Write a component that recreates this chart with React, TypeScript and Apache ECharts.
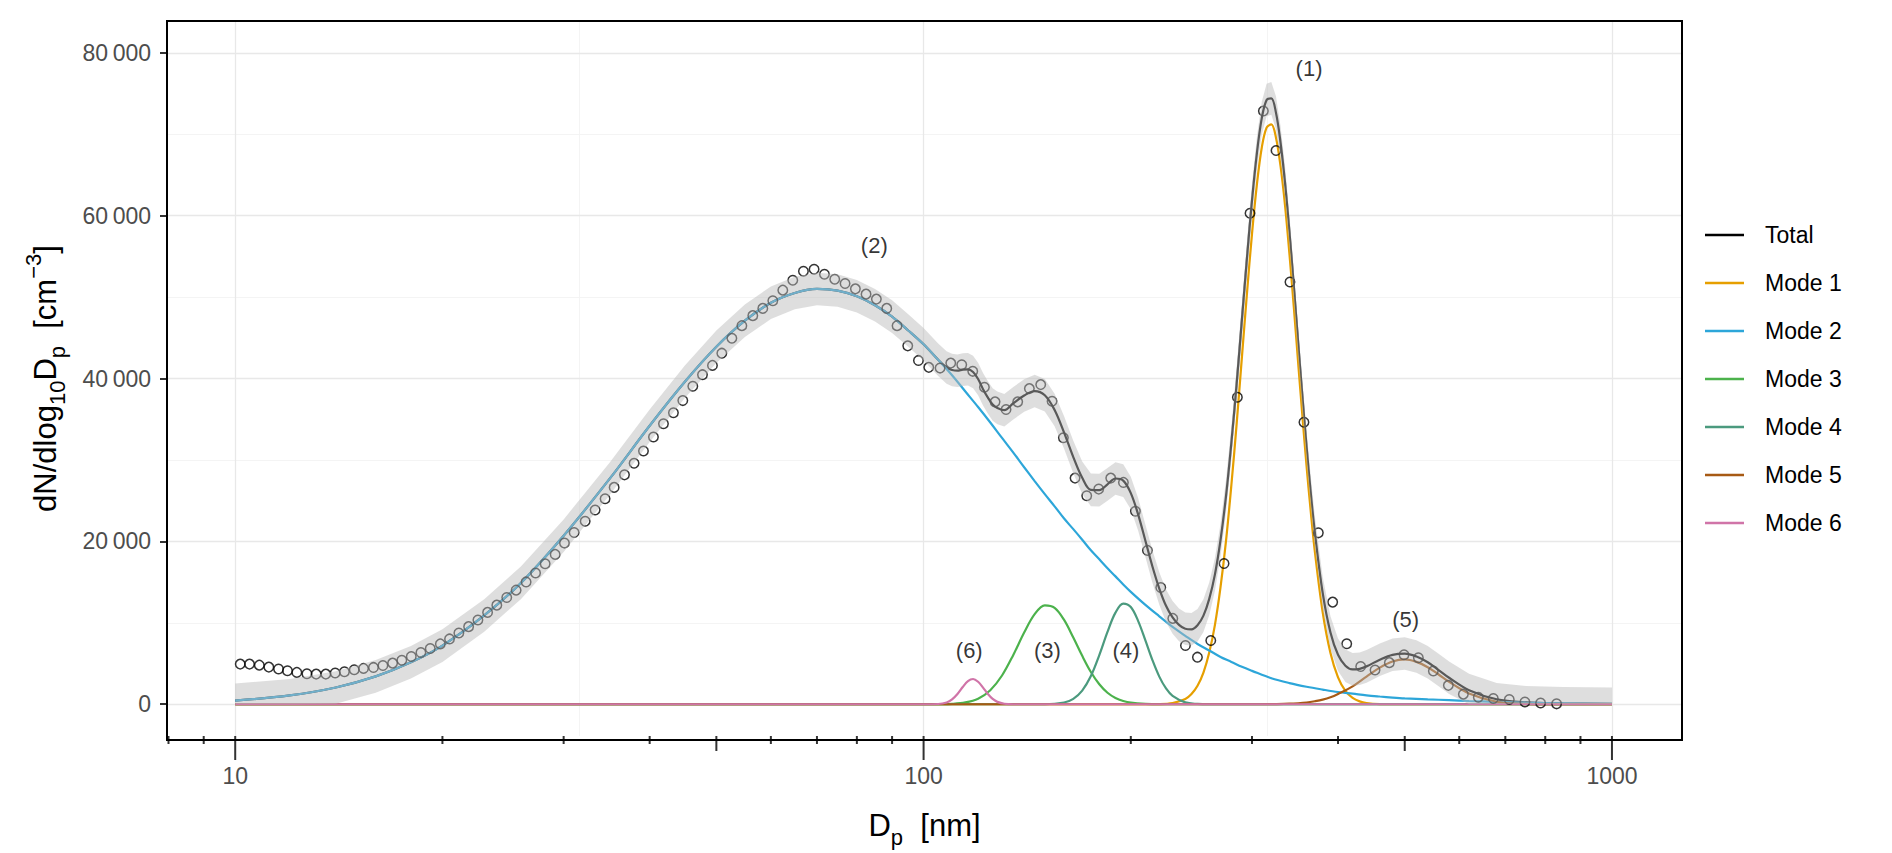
import { useEffect, useRef } from "react";
import * as echarts from "echarts";

const FONT = "Liberation Sans, Arial, Helvetica, sans-serif";

// measured spectrum (open circles): diameter [nm], dN/dlog10Dp [cm-3]
const pointX = [
  10.17, 10.49, 10.84, 11.19, 11.56, 11.91, 12.29, 12.71, 13.11, 13.54,
  13.97, 14.41, 14.89, 15.36, 15.88, 16.39, 16.93, 17.46, 18.02, 18.61,
  19.2, 19.86, 20.48, 21.13, 21.83, 22.52, 23.26, 23.99, 24.8, 25.59,
  26.46, 27.31, 28.2, 29.16, 30.08, 31.07, 32.24, 33.33, 34.46, 35.52,
  36.77, 37.97, 39.18, 40.51, 41.89, 43.31, 44.69, 46.21, 47.73, 49.35,
  50.92, 52.66, 54.45, 56.48, 58.4, 60.39, 62.44, 64.56, 66.9, 69.33,
  71.77, 74.29, 76.9, 79.6, 82.49, 85.39, 88.4, 91.51, 94.84, 98.29,
  101.75, 105.67, 109.51, 113.61, 117.87, 122.56, 127.01, 131.76, 137.0, 142.45,
  147.96, 153.68, 159.62, 165.97, 172.58, 179.65, 187.01, 195.11, 203.11, 211.43,
  221.07, 230.14, 240.1, 249.93, 261.33, 273.2, 285.65, 298.0, 311.6, 325.1,
  340.6, 356.9, 374.5, 392.9, 411.8, 431.5, 452.7, 474.9, 498.8, 523.3,
  550.2, 578.5, 608.3, 639.5, 672.4, 709.3, 747.4, 787.6, 830.9,
];
const pointY = [
  4930, 4930, 4800, 4560, 4320, 4110, 3910, 3750, 3700, 3700,
  3830, 3990, 4230, 4400, 4520, 4760, 5050, 5410, 5860, 6350,
  6840, 7410, 8020, 8750, 9530, 10340, 11280, 12170, 13110, 14010,
  15020, 16120, 17260, 18400, 19790, 21090, 22470, 23860, 25240, 26630,
  28170, 29600, 31100, 32820, 34440, 35790, 37290, 39040, 40470, 41610,
  43110, 44950, 46490, 47720, 48610, 49550, 50850, 52070, 53170, 53420,
  52800, 52190, 51670, 51010, 50360, 49750, 48610, 46490, 44010, 42220,
  41370, 41280, 41890, 41690, 40880, 38920, 37130, 36190, 37130, 38760,
  39250, 37210, 32730, 27770, 25610, 26420, 27770, 27240, 23700, 18890,
  14330, 10540, 7210, 5780, 7820, 17280, 37690, 60300, 72850, 68000,
  51850, 34620, 21050, 12540, 7430, 4630, 4200, 5110, 6080, 5710,
  4090, 2320, 1240, 860, 700, 590, 270, 160, 50,
];

// fitted total and its band
const totalX = [
  10, 12, 14, 16, 18, 20, 23, 26, 30, 35,
  40, 45, 50, 55, 60, 65, 70, 75, 80, 85,
  90, 95, 100, 105, 108, 110, 112, 114, 116, 118,
  120, 122, 124, 126, 128, 131, 135, 140, 145, 150,
  155, 160, 165, 170, 175, 180, 185, 190, 195, 200,
  205, 210, 215, 220, 225, 230, 235, 240, 245, 250,
  255, 260, 265, 270, 275, 280, 285, 290, 295, 300,
  305, 310, 315, 320, 325, 330, 335, 340, 345, 350,
  355, 360, 365, 370, 380, 390, 400, 410, 420, 430,
  440, 460, 480, 500, 520, 540, 560, 580, 620, 680,
  750, 850, 1000,
];
const totalY = [
  450, 1090, 2060, 3420, 5150, 7200, 10900, 14900, 20700, 27700,
  34200, 39600, 43900, 47100, 49300, 50500, 51000, 50800, 50100, 49000,
  47600, 45900, 44200, 42300, 41350, 41050, 40960, 41090, 41130, 40800,
  39940, 38690, 37660, 36800, 36390, 36110, 36960, 37910, 38460, 37950,
  36140, 33360, 30350, 27810, 26320, 26290, 27000, 27720, 27460, 25930,
  23290, 20080, 16920, 14210, 12090, 10670, 9750, 9270, 9200, 9700,
  10880, 12940, 15950, 20170, 25560, 32150, 39400, 47200, 54850, 61900,
  67750, 72000, 74200, 74400, 72650, 69000, 64050, 57970, 51340, 44470,
  37860, 31660, 26080, 21240, 13670, 8810, 6070, 4730, 4280, 4350,
  4650, 5470, 6070, 6220, 5860, 5150, 4200, 3250, 1730, 610,
  240, 120, 50,
];
const bandLow = [
  0, 0, 60, 1420, 3150, 5200, 8900, 12900, 18700, 25700,
  32200, 37600, 41900, 45100, 47300, 48500, 49000, 48800, 48100, 47000,
  45600, 43900, 42200, 40300, 39350, 39050, 38960, 39090, 39130, 38800,
  37940, 36690, 35660, 34800, 34390, 34110, 34960, 35910, 36460, 35950,
  34140, 31360, 28350, 25810, 24320, 24290, 25000, 25720, 25460, 23930,
  21290, 18080, 14920, 12210, 10090, 8670, 7750, 7270, 7200, 7700,
  8880, 10940, 13950, 18170, 23560, 30150, 37400, 45200, 52850, 59900,
  65750, 70000, 72200, 72400, 70650, 67000, 62050, 55970, 49340, 42470,
  35860, 29660, 24080, 19240, 11670, 6810, 4070, 2730, 2280, 2350,
  2650, 3470, 4070, 4220, 3860, 3150, 2200, 1250, 0, 0,
  0, 0, 0,
];
const bandHigh = [
  2550, 3090, 4060, 5420, 7150, 9200, 12900, 16900, 22700, 29700,
  36200, 41600, 45900, 49100, 51300, 52500, 53000, 52800, 52100, 51000,
  49600, 47900, 46200, 44300, 43350, 43050, 42960, 43090, 43130, 42800,
  41940, 40690, 39660, 38800, 38390, 38110, 38960, 39910, 40460, 39950,
  38140, 35360, 32350, 29810, 28320, 28290, 29000, 29720, 29460, 27930,
  25290, 22080, 18920, 16210, 14090, 12670, 11750, 11270, 11200, 11700,
  12880, 14940, 17950, 22170, 27560, 34150, 41400, 49200, 56850, 63900,
  69750, 74000, 76200, 76400, 74650, 71000, 66050, 59970, 53340, 46470,
  39860, 33660, 28080, 23240, 15670, 10810, 8070, 6730, 6280, 6350,
  6650, 7470, 8070, 8220, 7860, 7150, 6200, 5250, 3730, 2610,
  2240, 2120, 2050,
];

// individual modes
const mode1X = [10, 200, 220, 230, 240, 245, 250, 255, 260, 265, 270, 275, 280, 285, 290, 295, 300, 305, 310, 315, 320, 325, 330, 335, 340, 345, 350, 355, 360, 365, 370, 380, 390, 400, 410, 420, 430, 440, 460, 480, 1000];
const mode1Y = [0, 0, 20, 140, 640, 1250, 2260, 3880, 6340, 9750, 14370, 20060, 26950, 34500, 42600, 50500, 57800, 63900, 68400, 70800, 71200, 69600, 66100, 61300, 55300, 48800, 42000, 35500, 29300, 23800, 18900, 11300, 6300, 3300, 1640, 780, 350, 150, 20, 0, 0];

const mode2X = [10, 12, 14, 16, 18, 20, 23, 26, 30, 35, 40, 45, 50, 55, 60, 65, 70, 75, 80, 85, 90, 95, 100, 105, 110, 115, 120, 125, 130, 135, 140, 145, 150, 155, 160, 165, 170, 175, 180, 185, 190, 195, 200, 210, 220, 230, 240, 250, 260, 270, 280, 290, 300, 320, 340, 360, 380, 400, 420, 440, 460, 480, 500, 540, 580, 620, 680, 750, 850, 1000];
const mode2Y = [450, 1090, 2060, 3420, 5150, 7200, 10900, 14900, 20700, 27700, 34200, 39600, 43900, 47100, 49300, 50500, 51000, 50800, 50100, 49000, 47600, 45900, 44200, 42300, 40400, 38400, 36500, 34600, 32700, 30900, 29100, 27400, 25800, 24300, 22800, 21500, 20200, 18900, 17800, 16700, 15700, 14700, 13800, 12200, 10800, 9500, 8400, 7400, 6600, 5800, 5200, 4600, 4100, 3200, 2600, 2150, 1800, 1500, 1300, 1100, 950, 820, 720, 600, 500, 400, 300, 200, 120, 50];

const mode3X = [10, 100, 105, 110, 115, 120, 125, 130, 135, 140, 145, 150, 155, 160, 165, 170, 175, 180, 185, 190, 195, 200, 210, 220, 1000];
const mode3Y = [0, 0, 10, 50, 220, 680, 1720, 3530, 6060, 8810, 11060, 12150, 11840, 10350, 8190, 5940, 3960, 2450, 1410, 770, 400, 190, 40, 0, 0];

const mode4X = [10, 150, 160, 165, 170, 175, 180, 185, 190, 195, 200, 205, 210, 215, 220, 225, 230, 240, 250, 260, 1000];
const mode4Y = [0, 0, 210, 660, 1670, 3460, 6040, 8890, 11250, 12360, 11940, 10210, 7840, 5420, 3390, 1940, 1030, 230, 40, 0, 0];

const mode5X = [10, 300, 340, 350, 360, 370, 380, 390, 400, 420, 440, 460, 480, 500, 520, 540, 560, 580, 620, 680, 750, 850, 1000];
const mode5Y = [0, 0, 70, 120, 210, 370, 570, 860, 1270, 2200, 3400, 4500, 5250, 5500, 5200, 4550, 3650, 2750, 1330, 310, 40, 0, 0];

const mode6X = [10, 100, 105, 108, 110, 112, 114, 116, 118, 120, 122, 124, 126, 128, 131, 135, 1000];
const mode6Y = [0, 0, 30, 220, 600, 1260, 2120, 2850, 3100, 2760, 2040, 1260, 650, 290, 60, 0, 0];

const modeNames = ["Mode 1", "Mode 2", "Mode 3", "Mode 4", "Mode 5", "Mode 6"];
const modeColors = ["#E69F00", "#2DA6D9", "#4CB24C", "#4B9A7E", "#A75A14", "#D074A8"];

// peak annotations
const peakText = ["(1)", "(2)", "(3)", "(4)", "(5)", "(6)"];
const peakX = [363, 84.8, 151.3, 196.8, 501.5, 116.5];
const peakY = [78100, 56300, 6550, 6550, 10400, 6550];

// axes
const yTicks = [0, 20000, 40000, 60000, 80000];
const yMinorGrid = [10000, 30000, 50000, 70000];
const xMajor = [10, 100, 1000];
const xMajorLabels = ["10", "100", "1000"];
const xMid = [50, 500];
const xShort = [8, 9, 20, 30, 40, 60, 70, 80, 90, 200, 300, 400, 600, 700, 800, 900];
const xMinorGrid = [31.62, 316.2];

const pairs = (xs: number[], ys: number[]) => xs.map((x, i) => [x, ys[i]]);

const X_MIN = 7.96;
const X_MAX = 1264;
const Y_MIN = -3900;
const Y_MAX = 83900;

export default function App() {
  const ref = useRef<HTMLDivElement>(null);

  useEffect(() => {
    const el = ref.current;
    if (!el) return;
    const chart = echarts.init(el, undefined, { renderer: "svg" });

    const modeLines = [
      [mode1X, mode1Y],
      [mode2X, mode2Y],
      [mode3X, mode3Y],
      [mode4X, mode4Y],
      [mode5X, mode5Y],
      [mode6X, mode6Y],
    ].map(([xs, ys], i) => ({
      name: modeNames[i],
      type: "line",
      data: pairs(xs, ys),
      smooth: 0.35,
      symbol: "none",
      showSymbol: false,
      silent: true,
      z: 2,
      color: modeColors[i],
      lineStyle: { color: modeColors[i], width: 2.2 },
    }));

    const gridLine = (color: string, width: number) => ({ color, width, type: "solid" });
    const titleRich = {
      sub: { fontSize: 22, fontFamily: FONT, color: "#000", verticalAlign: "bottom", lineHeight: 24 },
      sup: { fontSize: 22, fontFamily: FONT, color: "#000", verticalAlign: "top", lineHeight: 28 },
    };

    // log ticks + decade labels under the panel
    const tick = (x: number, y: number, len: number) => ({
      type: "rect",
      shape: { x: x - 1, y, width: 2, height: len },
      style: { fill: "#333333" },
    });
    const renderLogAxis = (_params: any, api: any) => {
      const children: any[] = [];
      xShort.forEach((v) => {
        const p = api.coord([v, Y_MIN]);
        children.push(tick(p[0], p[1], 8));
      });
      xMid.forEach((v) => {
        const p = api.coord([v, Y_MIN]);
        children.push(tick(p[0], p[1], 15));
      });
      xMajor.forEach((v, i) => {
        const p = api.coord([v, Y_MIN]);
        children.push(tick(p[0], p[1], 24));
        children.push({
          type: "text",
          x: p[0],
          y: p[1] + 40,
          style: {
            text: xMajorLabels[i],
            fontSize: 23,
            fontFamily: FONT,
            fill: "#4D4D4D",
            align: "center",
            verticalAlign: "middle",
          },
        });
      });
      return { type: "group", children };
    };

    chart.setOption({
      animation: false,
      backgroundColor: "#ffffff",
      textStyle: { fontFamily: FONT },
      grid: { left: 167, top: 21, width: 1515, height: 719 },
      legend: {
        data: ["Total", ...modeNames],
        orient: "vertical",
        left: 1700,
        top: 217,
        icon: "rect",
        itemWidth: 39,
        itemHeight: 2.6,
        itemGap: 22,
        selectedMode: false,
        textStyle: { fontSize: 23, color: "#000", fontFamily: FONT, lineHeight: 26, padding: [0, 0, 0, 16] },
      },
      xAxis: {
        type: "log",
        logBase: 10,
        min: X_MIN,
        max: X_MAX,
        position: "bottom",
        name: "D{sub|p}  [nm]",
        nameLocation: "middle",
        nameGap: 66,
        nameMoveOverlap: false,
        nameTextStyle: { fontSize: 31, color: "#000", fontFamily: FONT, lineHeight: 46, rich: titleRich },
        axisLine: { show: false, onZero: false },
        splitLine: { show: false },
        axisTick: { show: false },
        axisLabel: { show: false },
      },
      yAxis: {
        type: "value",
        min: Y_MIN,
        max: Y_MAX,
        name: "dN/dlog{sub|10}D{sub|p}  [cm{sup|\u22123}]",
        nameLocation: "middle",
        nameGap: 99,
        nameMoveOverlap: false,
        nameTextStyle: { fontSize: 31, color: "#000", fontFamily: FONT, lineHeight: 46, rich: titleRich },
        axisLine: { show: false, onZero: false },
        splitLine: { show: false },
        axisTick: { show: true, customValues: yTicks, length: 7, lineStyle: { color: "#333333", width: 2 } },
        axisLabel: {
          customValues: yTicks,
          margin: 16,
          fontSize: 23,
          color: "#4D4D4D",
          fontFamily: FONT,
          formatter: (v: number) => String(v).replace(/\B(?=(\d{3})+(?!\d))/g, "\u2009"),
        },
      },
      graphic: [
        {
          type: "rect",
          shape: { x: 167, y: 21, width: 1515, height: 719 },
          style: { fill: "none", stroke: "#000", lineWidth: 2 },
          z: 100,
          silent: true,
        },
      ],
      series: [
        {
          name: "grid",
          type: "line",
          data: [[10, 0]],
          symbol: "none",
          showSymbol: false,
          silent: true,
          z: 1,
          lineStyle: { opacity: 0 },
          markLine: {
            silent: true,
            z: 1,
            symbol: ["none", "none"],
            label: { show: false },
            animation: false,
            data: [
              ...yMinorGrid.map((v) => ({ yAxis: v, lineStyle: gridLine("#F3F3F3", 0.9) })),
              ...xMinorGrid.map((v) => ({ xAxis: v, lineStyle: gridLine("#F3F3F3", 0.9) })),
              ...yTicks.map((v) => ({ yAxis: v, lineStyle: gridLine("#E8E8E8", 1.3) })),
              ...xMajor.map((v) => ({ xAxis: v, lineStyle: gridLine("#E8E8E8", 1.3) })),
            ],
          },
        },
        {
          name: "Total",
          type: "line",
          data: pairs(totalX, totalY),
          smooth: 0.35,
          symbol: "none",
          showSymbol: false,
          silent: true,
          z: 2,
          color: "#000000",
          lineStyle: { color: "#000000", width: 2.2 },
        },
        ...modeLines,
        {
          name: "measured",
          type: "scatter",
          data: pairs(pointX, pointY),
          symbol: "circle",
          symbolSize: 9.5,
          silent: true,
          z: 2,
          itemStyle: { color: "rgba(0,0,0,0)", borderColor: "#000", borderWidth: 1.5 },
        },
        {
          name: "band",
          type: "custom",
          silent: true,
          z: 3,
          data: [[totalX[0], bandLow[0]]],
          renderItem: (_params: any, api: any) => {
            const pts: number[][] = [];
            for (let i = 0; i < totalX.length; i++) pts.push(api.coord([totalX[i], bandHigh[i]]));
            for (let i = totalX.length - 1; i >= 0; i--) pts.push(api.coord([totalX[i], bandLow[i]]));
            return {
              type: "polygon",
              shape: { points: pts },
              style: { fill: "rgba(187,187,187,0.48)", stroke: "none" },
            };
          },
        },
        {
          name: "logaxis",
          type: "custom",
          silent: true,
          clip: false,
          z: 5,
          data: [[X_MIN, Y_MIN]],
          renderItem: renderLogAxis,
        },
        {
          name: "peaks",
          type: "scatter",
          data: peakX.map((x, i) => ({ value: [x, peakY[i]], name: peakText[i] })),
          symbolSize: 1,
          silent: true,
          z: 4,
          itemStyle: { color: "rgba(0,0,0,0)" },
          label: {
            show: true,
            position: "inside",
            formatter: "{b}",
            fontSize: 22,
            color: "#000",
            fontFamily: FONT,
          },
        },
      ],
    });

    return () => {
      chart.dispose();
    };
  }, []);

  return (
    <div
      ref={ref}
      style={{ position: "absolute", left: 0, top: 0, width: 1892, height: 853, background: "#fff" }}
    />
  );
}
